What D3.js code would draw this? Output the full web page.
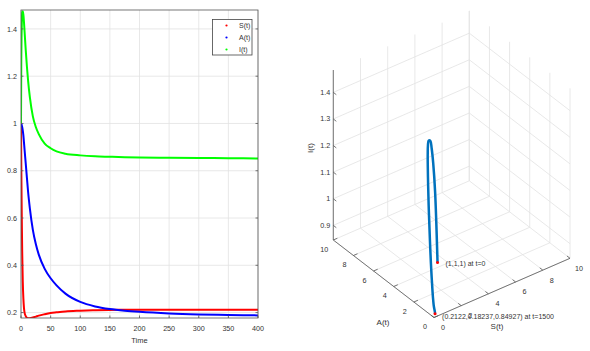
<!DOCTYPE html>
<html lang="en">
<head>
    <meta charset="UTF-8">
    <title>SAI model</title>
    <script src="https://d3js.org/d3.v7.min.js"></script>
    <style>
        body { margin: 0; background: #fff; }
        svg { display: block; font-family: "Liberation Sans", Arial, sans-serif; }
        .tick-label { font-size: 7.2px; fill: #333; }
        .note { font-size: 7px; fill: #333; }
        .grid { stroke: #e2e2e2; stroke-width: 0.8; fill: none; }
        .axis-line { stroke: #555; stroke-width: 0.8; fill: none; }
    </style>
</head>
<body>
    <div id="chart"></div>
    <script>
        // time series
        const tVals = [0, 0.5, 1, 1.5, 2, 3, 4, 5, 6, 8, 10, 12, 15, 20, 25, 30, 40, 50, 60, 75, 100, 125, 150, 175, 200, 250, 300, 350, 400, 1500];
        const sVals = [1, 0.82, 0.68, 0.56, 0.46, 0.33, 0.26, 0.22, 0.2, 0.185, 0.178, 0.176, 0.176, 0.179, 0.183, 0.187, 0.193, 0.198, 0.201, 0.205, 0.208, 0.21, 0.2112, 0.2117, 0.2119, 0.2121, 0.2121, 0.2122, 0.2122, 0.2122];
        const aVals = [1, 0.998, 0.995, 0.99, 0.985, 0.97, 0.95, 0.92, 0.89, 0.83, 0.77, 0.71, 0.64, 0.55, 0.49, 0.445, 0.385, 0.345, 0.315, 0.28, 0.245, 0.226, 0.215, 0.208, 0.203, 0.196, 0.192, 0.19, 0.188, 0.18237];
        const iVals = [1, 1.27, 1.38, 1.44, 1.47, 1.475, 1.46, 1.43, 1.39, 1.31, 1.24, 1.18, 1.11, 1.03, 0.985, 0.955, 0.915, 0.895, 0.882, 0.872, 0.865, 0.861, 0.859, 0.857, 0.856, 0.855, 0.854, 0.853, 0.852, 0.84927];

        const seriesNames = ["S(t)", "A(t)", "I(t)"];
        const seriesColors = ["#ff0000", "#0000ff", "#00ff00"];

        const timeTicks = [0, 50, 100, 150, 200, 250, 300, 350, 400];
        const valueTicks = [0.2, 0.4, 0.6, 0.8, 1, 1.2, 1.4];

        const sTicks3d = [0, 2, 4, 6, 8, 10];
        const aTicks3d = [0, 2, 4, 6, 8, 10];
        const iTicks3d = [0.9, 1, 1.1, 1.2, 1.3, 1.4];

        const startLabel = "(1,1,1) at t=0";
        const endLabel = "(0.2122,0.18237,0.84927) at t=1500";

        const width = 590;
        const height = 351;

        const svg = d3.select("#chart").append("svg")
            .attr("width", width)
            .attr("height", height);

        const rows = tVals.map((t, k) => ({ t: t, S: sVals[k], A: aVals[k], I: iVals[k] }));

        // ---------- left: time plot ----------
        const x = d3.scaleLinear().domain([0, 400]).range([21, 258]);
        const y = d3.scaleLinear().domain([0.177, 1.48]).range([318, 10]);

        const left = svg.append("g");

        left.selectAll(".vgrid")
            .data(timeTicks)
            .enter().append("line")
            .attr("class", "grid")
            .attr("x1", d => x(d)).attr("x2", d => x(d))
            .attr("y1", y.range()[0]).attr("y2", y.range()[1]);

        left.selectAll(".hgrid")
            .data(valueTicks)
            .enter().append("line")
            .attr("class", "grid")
            .attr("x1", x.range()[0]).attr("x2", x.range()[1])
            .attr("y1", d => y(d)).attr("y2", d => y(d));

        svg.append("clipPath").attr("id", "plotClip")
            .append("rect")
            .attr("x", x.range()[0]).attr("y", y.range()[1])
            .attr("width", x.range()[1] - x.range()[0])
            .attr("height", y.range()[0] - y.range()[1]);

        const shown = rows.filter(d => d.t <= 400);
        const keys = ["S", "A", "I"];
        keys.forEach((k, n) => {
            left.append("path")
                .datum(shown)
                .attr("clip-path", "url(#plotClip)")
                .attr("fill", "none")
                .attr("stroke", seriesColors[n])
                .attr("stroke-width", 2)
                .attr("d", d3.line().x(d => x(d.t)).y(d => y(d[k])).curve(d3.curveMonotoneX));
        });

        // box
        left.append("rect")
            .attr("class", "axis-line")
            .attr("x", x.range()[0]).attr("y", y.range()[1])
            .attr("width", x.range()[1] - x.range()[0])
            .attr("height", y.range()[0] - y.range()[1]);

        // ticks
        left.selectAll(".xt")
            .data(timeTicks)
            .enter().append("line")
            .attr("class", "axis-line")
            .attr("x1", d => x(d)).attr("x2", d => x(d))
            .attr("y1", y.range()[0]).attr("y2", y.range()[0] - 2.5);
        left.selectAll(".yt")
            .data(valueTicks)
            .enter().append("line")
            .attr("class", "axis-line")
            .attr("x1", x.range()[0]).attr("x2", x.range()[0] + 2.5)
            .attr("y1", d => y(d)).attr("y2", d => y(d));
        left.selectAll(".yt2")
            .data(valueTicks)
            .enter().append("line")
            .attr("class", "axis-line")
            .attr("x1", x.range()[1]).attr("x2", x.range()[1] - 2.5)
            .attr("y1", d => y(d)).attr("y2", d => y(d));

        left.selectAll(".xl")
            .data(timeTicks)
            .enter().append("text")
            .attr("class", "tick-label")
            .attr("x", d => x(d)).attr("y", 331)
            .attr("text-anchor", "middle")
            .text(d => d);
        left.selectAll(".yl")
            .data(valueTicks)
            .enter().append("text")
            .attr("class", "tick-label")
            .attr("x", 17).attr("y", d => y(d) + 2.6)
            .attr("text-anchor", "end")
            .text(d => d);

        left.append("text")
            .attr("class", "tick-label")
            .style("font-size", "7.5px")
            .attr("x", (x.range()[0] + x.range()[1]) / 2).attr("y", 343)
            .attr("text-anchor", "middle")
            .text("Time");

        // legend
        const legend = left.append("g");
        legend.append("rect")
            .attr("x", 212.5).attr("y", 19.5)
            .attr("width", 39.5).attr("height", 35.5)
            .attr("fill", "#fff")
            .attr("stroke", "#444")
            .attr("stroke-width", 0.8);
        seriesNames.forEach((name, n) => {
            legend.append("circle")
                .attr("cx", 226.5).attr("cy", 25.5 + n * 12)
                .attr("r", 1.1)
                .attr("fill", seriesColors[n]);
            legend.append("text")
                .attr("class", "tick-label")
                .style("font-size", "7px")
                .attr("x", 239).attr("y", 28 + n * 12)
                .text(name);
        });

        // ---------- right: 3D phase portrait ----------
        const ox = 434, oy = 317.5;
        const zMin = 0.845, zMax = 1.484;
        const sX = d3.scaleLinear().domain([0, 10]).range([0, 136]);
        const sY = d3.scaleLinear().domain([0, 10]).range([0, -59.2]);
        const aX = d3.scaleLinear().domain([0, 10]).range([0, -100.7]);
        const aY = d3.scaleLinear().domain([0, 10]).range([0, -77.5]);
        const zY = d3.scaleLinear().domain([zMin, zMax]).range([0, -(zMax - zMin) * 266]);

        const proj = (s, a, i) => [ox + sX(s) + aX(a), oy + sY(s) + aY(a) + zY(i)];

        const right = svg.append("g");
        const seg = (p, q, cls) => right.append("line")
            .attr("class", cls)
            .attr("x1", p[0]).attr("y1", p[1])
            .attr("x2", q[0]).attr("y2", q[1]);

        // floor grid
        sTicks3d.forEach(s => seg(proj(s, 0, zMin), proj(s, 10, zMin), "grid"));
        aTicks3d.forEach(a => seg(proj(0, a, zMin), proj(10, a, zMin), "grid"));
        // back-left wall (A = 10)
        sTicks3d.forEach(s => seg(proj(s, 10, zMin), proj(s, 10, zMax), "grid"));
        iTicks3d.forEach(i => seg(proj(0, 10, i), proj(10, 10, i), "grid"));
        // back-right wall (S = 10)
        aTicks3d.forEach(a => seg(proj(10, a, zMin), proj(10, a, zMax), "grid"));
        iTicks3d.forEach(i => seg(proj(10, 0, i), proj(10, 10, i), "grid"));

        // axes
        seg(proj(0, 0, zMin), proj(10, 0, zMin), "axis-line");
        seg(proj(0, 0, zMin), proj(0, 10, zMin), "axis-line");
        seg(proj(0, 10, zMin), proj(0, 10, zMax), "axis-line");

        // ticks (pointing into the box)
        sTicks3d.forEach(s => {
            const p = proj(s, 0, zMin), q = proj(s, 0.3, zMin);
            seg(p, q, "axis-line");
            right.append("text").attr("class", "tick-label")
                .attr("x", p[0] + 9).attr("y", p[1] + 12.5)
                .attr("text-anchor", "middle").text(s);
        });
        aTicks3d.forEach(a => {
            const p = proj(0, a, zMin), q = proj(0.3, a, zMin);
            seg(p, q, "axis-line");
            right.append("text").attr("class", "tick-label")
                .attr("x", p[0] - 9).attr("y", p[1] + 11.5)
                .attr("text-anchor", "middle").text(a);
        });
        iTicks3d.forEach(i => {
            const p = proj(0, 10, i), q = proj(0, 9.7, i);
            seg(p, q, "axis-line");
            right.append("text").attr("class", "tick-label")
                .attr("x", p[0] - 3).attr("y", p[1] + 2.5)
                .attr("text-anchor", "end").text(i);
        });

        right.append("text").attr("class", "tick-label")
            .style("font-size", "8px")
            .attr("transform", "translate(313,148) rotate(-90)")
            .attr("text-anchor", "middle").text("I(t)");
        right.append("text").attr("class", "tick-label")
            .style("font-size", "8px")
            .attr("x", 383).attr("y", 325)
            .attr("text-anchor", "middle").text("A(t)");
        right.append("text").attr("class", "tick-label")
            .style("font-size", "8px")
            .attr("x", 497).attr("y", 329)
            .attr("text-anchor", "middle").text("S(t)");

        // trajectory
        right.append("path")
            .datum(rows)
            .attr("fill", "none")
            .attr("stroke", "#0072BD")
            .attr("stroke-width", 2.5)
            .attr("stroke-linejoin", "round")
            .attr("d", d3.line()
                .x(d => proj(d.S, d.A, d.I)[0])
                .y(d => proj(d.S, d.A, d.I)[1])
                .curve(d3.curveCatmullRom));

        const first = rows[0], last = rows[rows.length - 1];
        const p0 = proj(first.S, first.A, first.I);
        const p1 = proj(last.S, last.A, last.I);
        [p0, p1].forEach(p => {
            right.append("circle")
                .attr("cx", p[0]).attr("cy", p[1])
                .attr("r", 1.5).attr("fill", "#ff0000");
        });
        right.append("text").attr("class", "note")
            .attr("x", p0[0] + 8).attr("y", p0[1] + 3)
            .text(startLabel);
        right.append("text").attr("class", "note")
            .attr("x", p1[0] + 7).attr("y", p1[1] + 5)
            .text(endLabel);
    </script>
</body>
</html>
